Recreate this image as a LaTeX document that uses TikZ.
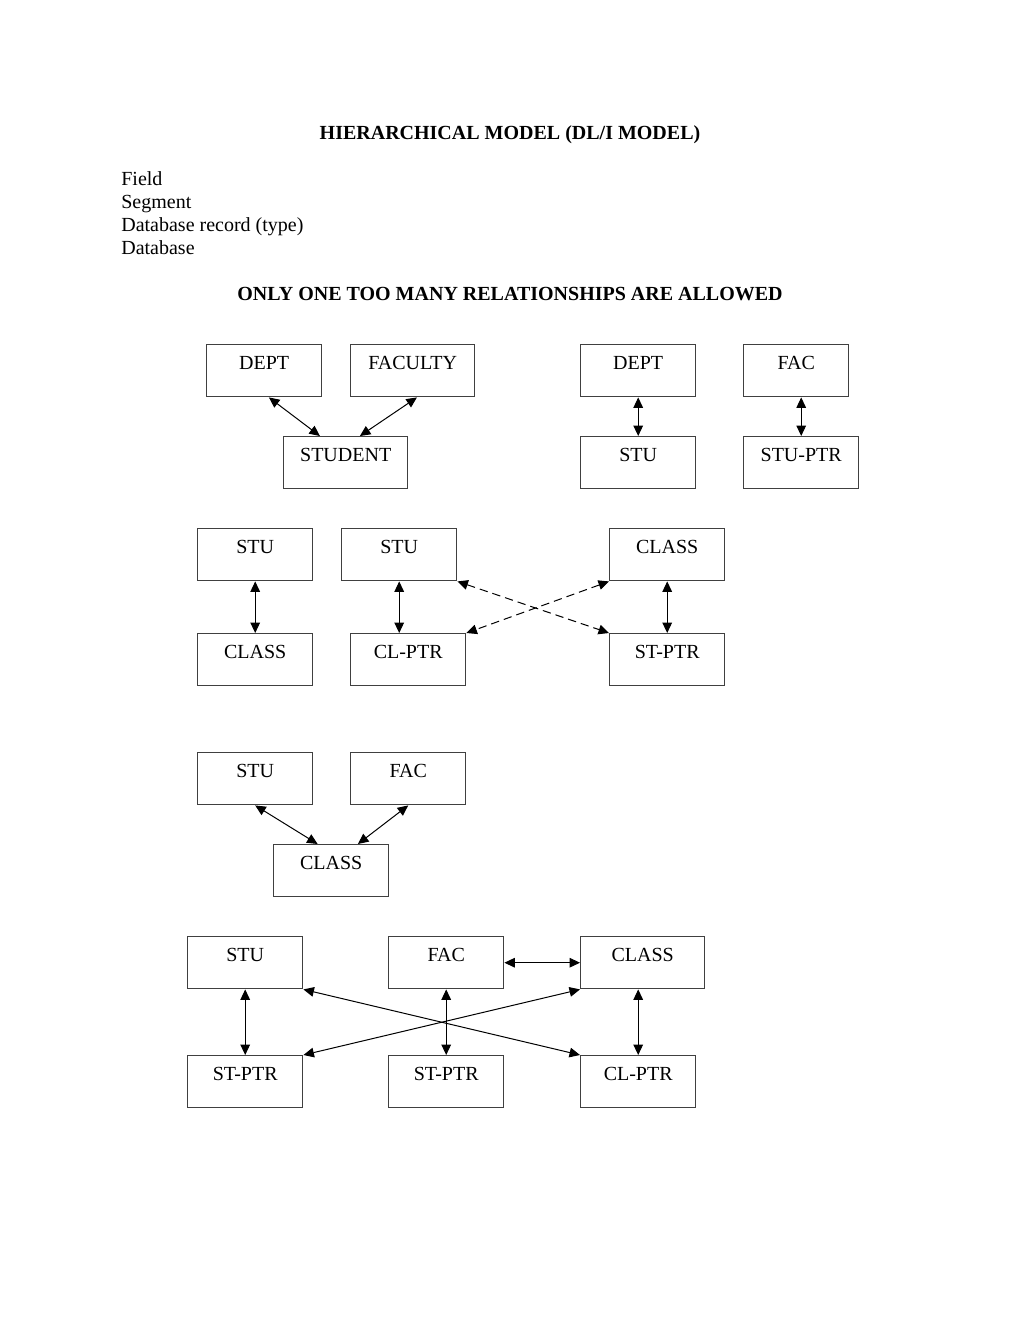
\documentclass[tikz,border=0pt]{standalone}
\usepackage{fontspec}
\setmainfont{Liberation Serif}
\usetikzlibrary{arrows.meta}
\begin{document}
\begin{tikzpicture}[x=0.6pt, y=-0.6pt, >={Triangle[length=6.3pt,width=5.8pt]}]
    \tikzstyle{every node}=[inner sep=0pt, font=\fontsize{12}{13.8}\selectfont];
    \tikzstyle{heading}=[anchor=base, font=\fontsize{12}{13.8}\selectfont\bfseries];
    \tikzstyle{item}=[anchor=base west];
    \tikzstyle{box}=[draw=black!75, line width=0.85pt, anchor=north west, minimum width=69pt, text height=14.7pt, text depth=16.5pt];
    \tikzstyle{wide}=[minimum width=74.4pt];
    \tikzstyle{narrow}=[minimum width=63pt];
    \tikzstyle{link}=[<->, line width=0.6pt];
    \tikzstyle{ptr}=[link, dash pattern=on 5pt off 3pt];

    \useasboundingbox (0,0) rectangle (1020,1320);

    \node (title) [heading] at (510,139.5) {HIERARCHICAL MODEL (DL/I MODEL)};
    \node (f1) [item] at (121,185.5) {Field};
    \node (f2) [item] at (121,208.5) {Segment};
    \node (f3) [item] at (121,231.5) {Database record (type)};
    \node (f4) [item] at (121,254.5) {Database};
    \node (rule) [heading] at (510,300.5) {ONLY ONE TOO MANY RELATIONSHIPS ARE ALLOWED};

    % dept / faculty / student
    \node (dept1) [box] at (206,344) {DEPT};
    \node (faculty) [box, wide] at (350,344) {FACULTY};
    \node (student) [box, wide] at (283,436) {STUDENT};
    \node (dept2) [box] at (580,344) {DEPT};
    \node (fac1) [box, narrow] at (743,344) {FAC};
    \node (stu1) [box] at (580,436) {STU};
    \node (stuptr) [box] at (743,436) {STU-PTR};

    \path (dept1.280) edge [link] (student.134);
    \path (faculty.279) edge [link] (student.62);
    \path (dept2.south) edge [link] (stu1.north);
    \path (stuptr.north |- fac1.south) edge [link] (stuptr.north);

    % student / class
    \node (stu2) [box] at (197,528) {STU};
    \node (class1) [box] at (197,633) {CLASS};
    \node (stu3) [box] at (341,528) {STU};
    \node (clptr1) [box] at (350,633) {CL-PTR};
    \node (class2) [box] at (609,528) {CLASS};
    \node (stptr1) [box] at (609,633) {ST-PTR};

    \path (stu2.south) edge [link] (class1.north);
    \path (stu3.south) edge [link] (stu3.south |- clptr1.north);
    \path (class2.south) edge [link] (stptr1.north);
    \path (stu3.south east) edge [ptr] (stptr1.north west);
    \path (class2.south west) edge [ptr] (clptr1.north east);

    % student / faculty / class
    \node (stu4) [box] at (197,752) {STU};
    \node (fac2) [box] at (350,752) {FAC};
    \node (class3) [box] at (273,844) {CLASS};

    \path (stu4.south) edge [link] (class3.117);
    \path (fac2.south) edge [link] (class3.45);

    % with pointer segments
    \node (stu5) [box] at (187,936) {STU};
    \node (fac3) [box] at (388,936) {FAC};
    \node (class4) [box, wide] at (580,936) {CLASS};
    \node (stptr2) [box] at (187,1055) {ST-PTR};
    \node (stptr3) [box] at (388,1055) {ST-PTR};
    \node (clptr2) [box] at (580,1055) {CL-PTR};

    \path (fac3.east) edge [link] (class4.west);
    \path (stu5.south) edge [link] (stptr2.north);
    \path (fac3.south) edge [link] (stptr3.north);
    \path (clptr2.north |- class4.south) edge [link] (clptr2.north);
    \path (stu5.south east) edge [link] (clptr2.north west);
    \path (class4.south west) edge [link] (stptr2.north east);
\end{tikzpicture}
\end{document}
